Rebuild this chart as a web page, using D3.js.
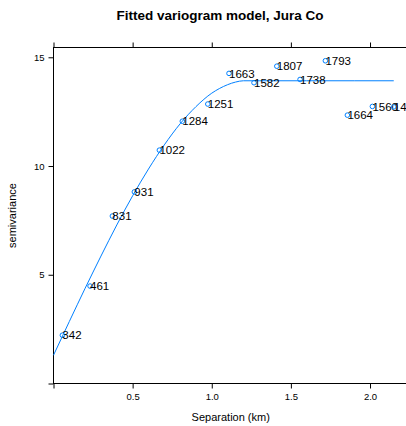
<!DOCTYPE html>
<html>
<head>
<meta charset="utf-8">
<script src="https://cdn.jsdelivr.net/npm/d3@7"></script>
<style>
  body { margin: 0; background: #fff; }
  text { font-family: "Liberation Sans", Arial, sans-serif; }
</style>
</head>
<body>
<div id="chart"></div>
<script>
// empirical variogram: separation (km), semivariance, number of pairs
const dist  = [0.056, 0.231, 0.372, 0.511, 0.669, 0.814, 0.975, 1.109, 1.267, 1.411, 1.558, 1.718, 1.857, 2.015, 2.150];
const gamma = [2.22, 4.48, 7.70, 8.81, 10.73, 12.06, 12.85, 14.26, 13.83, 14.59, 13.98, 14.84, 12.34, 12.74, 12.72];
const npairs = [342, 461, 831, 931, 1022, 1284, 1251, 1663, 1582, 1807, 1738, 1793, 1664, 1560, 1495];

// fitted model line
const modelDist  = [0, 0.1, 0.2, 0.3, 0.4, 0.5, 0.6, 0.7, 0.8, 0.9, 1.0, 1.05, 1.1, 1.15, 1.2, 1.3, 1.6, 1.9, 2.15];
const modelGamma = [1.30, 2.85, 4.38, 5.86, 7.29, 8.63, 9.86, 10.97, 11.94, 12.73, 13.35, 13.57, 13.74, 13.86, 13.92, 13.92, 13.92, 13.92, 13.92];

const xTicks = [0, 0.5, 1.0, 1.5, 2.0];
const yTicks = [0, 5, 10, 15];

const width = 406, height = 426;
const mLeft = 53.5, mRight = 408, mTop = 47.5, mBottom = 383.5;

const svg = d3.select('#chart')
  .append('svg')
  .attr('width', width)
  .attr('height', height);

let x = d3.scaleLinear().domain([0, 2.24]).range([mLeft, mRight]);
let y = d3.scaleLinear().domain([0, 15.45]).range([mBottom, mTop]);

// title
svg.append('text')
  .attr('x', 220)
  .attr('y', 20)
  .style('text-anchor', 'middle')
  .style('font-size', '13.5px')
  .style('font-weight', 'bold')
  .text('Fitted variogram model, Jura Co');

// panel box
svg.append('rect')
  .attr('x', mLeft).attr('y', mTop)
  .attr('width', mRight - mLeft).attr('height', mBottom - mTop)
  .attr('fill', 'none')
  .attr('stroke', '#000')
  .attr('stroke-width', 1);

// left axis
let yAxis = d3.axisLeft(y).tickValues(yTicks)
  .tickFormat(d => d === 0 ? '' : d3.format('d')(d))
  .tickSize(5).tickPadding(4);
svg.append('g')
  .attr('transform', `translate(${mLeft},0)`)
  .call(yAxis)
  .call(g => g.select('.domain').remove())
  .call(g => g.selectAll('text').style('font-size', '9.5px').style('font-family', '"Liberation Sans", Arial, sans-serif'));

// bottom axis
let xAxis = d3.axisBottom(x).tickValues(xTicks)
  .tickFormat(d => d === 0 ? '' : d3.format('.1f')(d))
  .tickSize(5).tickPadding(5);
svg.append('g')
  .attr('transform', `translate(0,${mBottom})`)
  .call(xAxis)
  .call(g => g.select('.domain').remove())
  .call(g => g.selectAll('text').style('font-size', '9.5px').style('font-family', '"Liberation Sans", Arial, sans-serif'));

// top axis (ticks only)
svg.append('g')
  .attr('transform', `translate(0,${mTop})`)
  .call(d3.axisTop(x).tickValues(xTicks).tickFormat('').tickSize(5))
  .call(g => g.select('.domain').remove());

// axis titles
svg.append('text')
  .attr('x', (mLeft + mRight) / 2)
  .attr('y', 421)
  .style('text-anchor', 'middle')
  .style('font-size', '11px')
  .text('Separation (km)');

svg.append('text')
  .attr('transform', `translate(16, ${(mTop + mBottom) / 2}) rotate(-90)`)
  .style('text-anchor', 'middle')
  .style('font-size', '11px')
  .text('semivariance');

// model line
let line = d3.line()
  .x((d, i) => x(modelDist[i]))
  .y((d, i) => y(modelGamma[i]))
  .curve(d3.curveMonotoneX);

svg.append('path')
  .datum(modelDist)
  .attr('d', line)
  .attr('fill', 'none')
  .attr('stroke', '#0080ff')
  .attr('stroke-width', 1);

// points
let pts = svg.append('g')
  .selectAll('g')
  .data(dist.map((d, i) => ({ dist: d, gamma: gamma[i], np: npairs[i] })))
  .enter()
  .append('g');

pts.append('circle')
  .attr('cx', d => x(d.dist))
  .attr('cy', d => y(d.gamma))
  .attr('r', 2.3)
  .attr('fill', 'none')
  .attr('stroke', '#0080ff')
  .attr('stroke-width', 1);

pts.append('text')
  .attr('x', d => x(d.dist))
  .attr('y', d => y(d.gamma))
  .attr('dy', '0.36em')
  .style('font-size', '11.5px')
  .text(d => d.np);
</script>
</body>
</html>
